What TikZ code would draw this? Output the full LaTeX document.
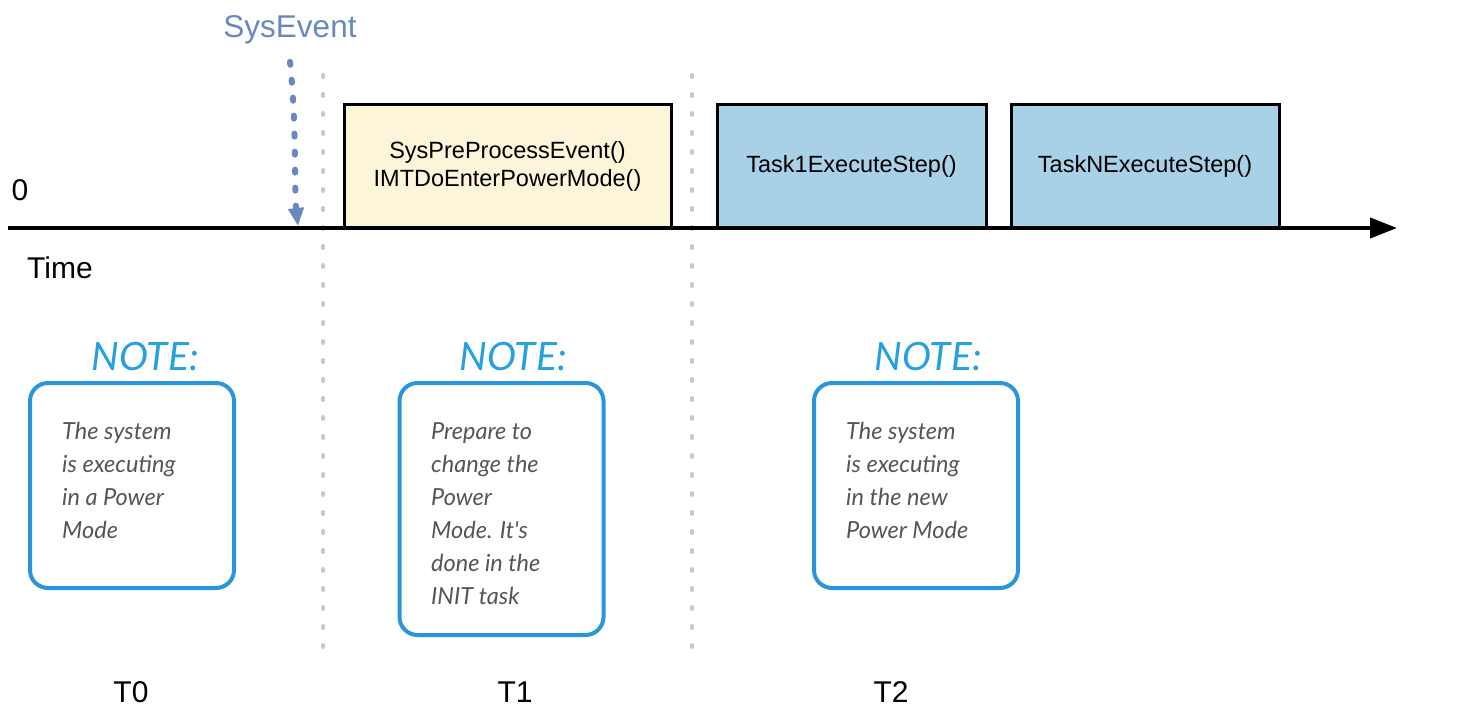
\documentclass[tikz,border=0pt]{standalone}
\usepackage{fontspec}
\setmainfont{Liberation Sans}
\newfontfamily\notefont{Lato}
\usetikzlibrary{arrows.meta,positioning}
\definecolor{evblue}{RGB}{104,136,190}
\definecolor{notecyan}{RGB}{38,160,222}
\definecolor{noteline}{RGB}{40,150,216}
\definecolor{notegrey}{RGB}{85,85,85}
\definecolor{initfill}{RGB}{252,245,218}
\definecolor{taskfill}{RGB}{168,208,230}
\definecolor{sepgrey}{RGB}{200,200,200}
\tikzset{>=stealth,
  taskbox/.style={draw=black,line width=3pt,minimum height=123pt,inner sep=0pt,
    font=\fontsize{23.5}{28}\selectfont,align=center},
  notebox/.style={draw=noteline,line width=4pt,rounded corners=18pt,minimum width=204pt,inner sep=0pt},
  notehead/.style={text=notecyan,font=\notefont\itshape\fontsize{39}{40}\selectfont},
  notetext/.style={text=notegrey,anchor=north west,inner sep=0pt,align=left,
    font=\notefont\itshape\fontsize{23.5}{33}\selectfont},
  seprule/.style={sepgrey,line width=4pt,line cap=round,dash pattern=on 2pt off 17pt},
  biglabel/.style={font=\fontsize{30}{32}\selectfont}
}
\begin{document}
\begin{tikzpicture}[x=1pt,y=-1pt]
\useasboundingbox (0,0) rectangle (1464,722);

% separators between the time slots
\draw[seprule] (323,75) -- (323,660);
\draw[seprule] (692,75) -- (692,660);

% work done on the time line
\node[taskbox,fill=initfill,minimum width=327pt] (init) at (507.5,166.5) {SysPreProcessEvent()\\IMTDoEnterPowerMode()};
\node[taskbox,fill=taskfill,minimum width=269pt] (taskone) at (851.5,166.5) {Task1ExecuteStep()};
\node[taskbox,fill=taskfill,minimum width=268pt] (taskn) at (1145,166.5) {TaskNExecuteStep()};

% time axis
\coordinate (origin) at (8,228);
\coordinate (tend) at (1397,228);
\draw[line width=4pt,-{Triangle[length=27pt,width=20pt]}] (origin) -- (tend);
\node[biglabel] (zero) at (20,190) {0};
\node[biglabel] (time) at (60,268) {Time};

% incoming system event
\node[text=evblue,font=\fontsize{31.5}{32}\selectfont] (sysevent) at (290,30) {SysEvent};
\coordinate (evhit) at (298,226);
\draw[evblue,line width=6pt,line cap=round,dash pattern=on 3pt off 15pt,-{Triangle[length=18pt,width=15pt]}]
  (sysevent.south) ++(0,14) .. controls (297,130) and (294,190) .. (evhit);

% notes
\node[notebox,minimum height=205pt] (noteA) at (132,485.5) {};
\node[notebox,minimum height=252pt] (noteB) at (501.5,509) {};
\node[notebox,minimum height=205pt] (noteC) at (916,485.5) {};
\node[notehead] (headA) at (145,357) {NOTE:};
\node[notehead] (headB) at (513,357) {NOTE:};
\node[notehead] (headC) at (928,357) {NOTE:};
\node[notetext] (txtA) at (62,422) {The system\\is executing\\in a Power\\Mode};
\node[notetext] (txtB) at (431,422) {Prepare to\\change the\\Power\\Mode. It's\\done in the\\INIT task};
\node[notetext] (txtC) at (846,422) {The system\\is executing\\in the new\\Power Mode};

% time slots
\node[biglabel] (slotA) at (131,692) {T0};
\node[biglabel] (slotB) at (515,692) {T1};
\node[biglabel] (slotC) at (891,692) {T2};
\end{tikzpicture}
\end{document}
